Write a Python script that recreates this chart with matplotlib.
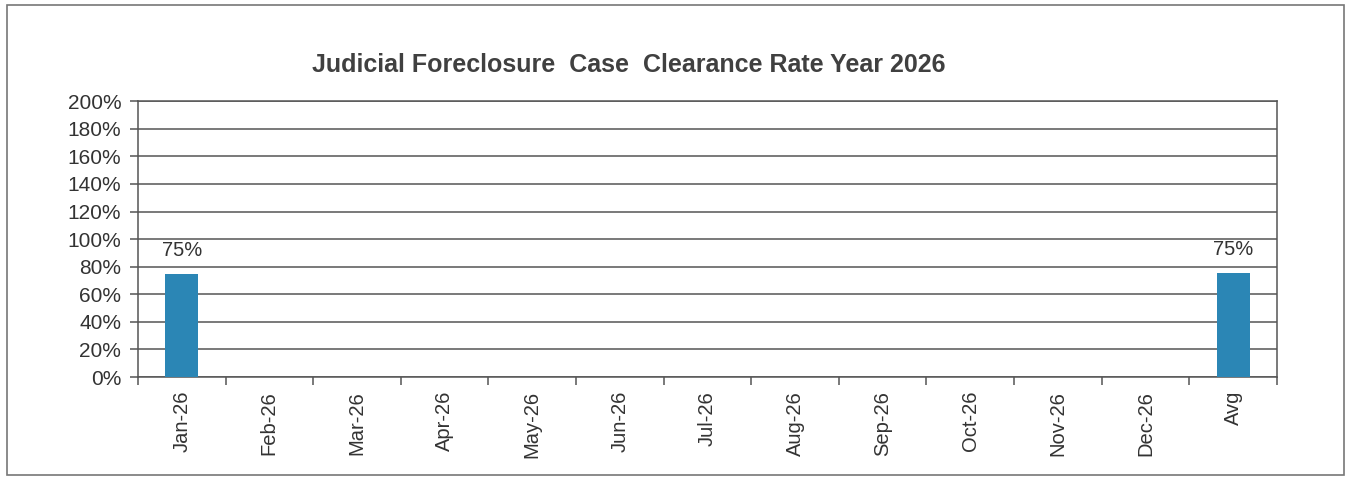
import matplotlib.pyplot as plt
from matplotlib.patches import Rectangle
from matplotlib.ticker import FuncFormatter

plt.rcParams["font.family"] = ["Liberation Sans", "DejaVu Sans"]

months = ["Jan-26", "Feb-26", "Mar-26", "Apr-26", "May-26", "Jun-26",
          "Jul-26", "Aug-26", "Sep-26", "Oct-26", "Nov-26", "Dec-26", "Avg"]
rates = [0.75, None, None, None, None, None, None, None, None, None, None, None, 0.755]
labels = ["75%", "", "", "", "", "", "", "", "", "", "", "", "75%"]

fig = plt.figure(figsize=(13.47, 4.84), dpi=100)
fig.patches.append(Rectangle((0.005, 0.018), 0.993, 0.972, transform=fig.transFigure,
                             fill=False, edgecolor="#777777", linewidth=1.2))
ax = fig.add_axes([0.1024, 0.221, 0.8456, 0.570])

bar_color = "#2B86B5"
xs = list(range(len(months)))
for x, v, lab in zip(xs, rates, labels):
    if v is None:
        continue
    ax.bar(x, v, width=0.38, color=bar_color, zorder=3)
    ax.text(x, v + 0.1, lab, ha="center", va="bottom", fontsize=14.5, color="#333333")

ax.set_xlim(-0.5, len(months) - 0.5)
ax.set_ylim(0, 2.0)
ax.set_yticks([i * 0.2 for i in range(11)])
ax.yaxis.set_major_formatter(FuncFormatter(lambda v, _: f"{v * 100:.0f}%"))
ax.yaxis.grid(True, color="#555555", linewidth=1.1, zorder=0)

ax.set_xticks(xs)
ax.set_xticklabels(months, rotation=90, fontsize=14.5, color="#333333")
ax.set_xticks([x - 0.5 for x in xs] + [len(months) - 0.5], minor=True)
ax.tick_params(axis="x", which="major", length=0, pad=10)
ax.tick_params(axis="x", which="minor", length=6, color="#555555", width=1.1)
ax.tick_params(axis="y", length=6, color="#555555", width=1.1, labelsize=15,
               labelcolor="#333333", pad=6)

for side in ["left", "right", "top", "bottom"]:
    ax.spines[side].set_color("#555555")
    ax.spines[side].set_linewidth(1.1)

fig.text(0.467, 0.865, "Judicial Foreclosure  Case  Clearance Rate Year 2026",
         ha="center", va="center", fontsize=18, fontweight="bold", color="#404040")

fig.savefig("out.png", dpi=100)
